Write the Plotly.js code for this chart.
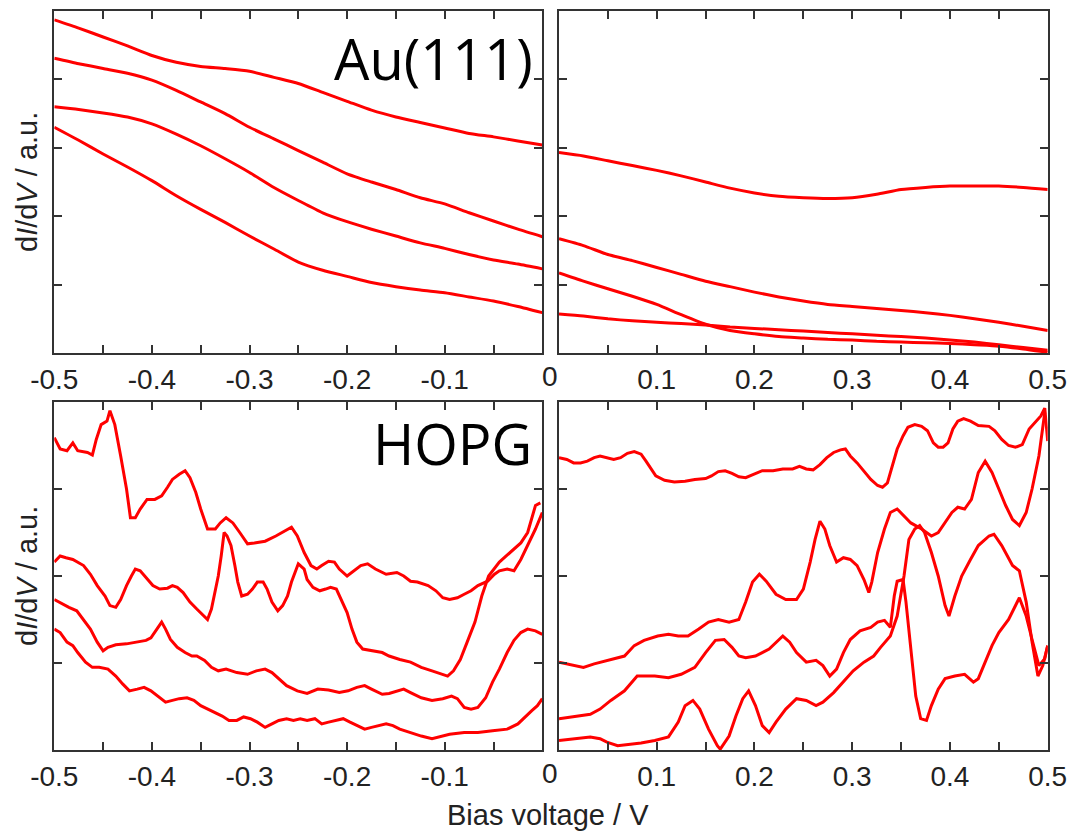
<!DOCTYPE html>
<html>
<head>
<meta charset="utf-8">
<script src="https://cdn.plot.ly/plotly-3.0.1.min.js"></script>
<style>
  html, body { margin: 0; padding: 0; background: #ffffff; }
  #chart { width: 1071px; height: 833px; }
</style>
</head>
<body>
<div id="chart"></div>
<script>
// ---- Au(111) spectra, bias grid in volts ----
const auNegBias = [-0.5, -0.475, -0.45, -0.425, -0.4, -0.375, -0.35, -0.325, -0.3, -0.275, -0.25,
                   -0.225, -0.2, -0.175, -0.15, -0.125, -0.1, -0.075, -0.05, -0.025, 0];
const auNeg1 = [4.87, 4.75, 4.62, 4.49, 4.35, 4.25, 4.19, 4.16, 4.12, 4.03, 3.94, 3.81, 3.68, 3.55, 3.45, 3.37, 3.29, 3.21, 3.16, 3.10, 3.04];
const auNeg2 = [4.31, 4.23, 4.16, 4.09, 3.99, 3.84, 3.67, 3.50, 3.30, 3.13, 2.96, 2.79, 2.62, 2.50, 2.39, 2.27, 2.18, 2.05, 1.93, 1.81, 1.70];
const auNeg3 = [3.60, 3.56, 3.51, 3.45, 3.35, 3.20, 3.03, 2.84, 2.64, 2.42, 2.23, 2.05, 1.92, 1.81, 1.71, 1.61, 1.53, 1.44, 1.36, 1.30, 1.23];
const auNeg4 = [3.30, 3.11, 2.91, 2.72, 2.52, 2.30, 2.10, 1.91, 1.71, 1.52, 1.33, 1.21, 1.12, 1.03, 0.97, 0.92, 0.88, 0.82, 0.76, 0.68, 0.59];

const auPosBias = [0, 0.025, 0.05, 0.075, 0.1, 0.125, 0.15, 0.175, 0.2, 0.225, 0.25,
                   0.275, 0.3, 0.325, 0.35, 0.375, 0.4, 0.425, 0.45, 0.475, 0.5];
const auPos1 = [2.93, 2.88, 2.81, 2.74, 2.67, 2.59, 2.50, 2.41, 2.34, 2.29, 2.27, 2.26, 2.27, 2.32, 2.39, 2.42, 2.44, 2.44, 2.44, 2.42, 2.39];
const auPos2 = [1.67, 1.57, 1.44, 1.35, 1.25, 1.15, 1.05, 0.97, 0.89, 0.82, 0.76, 0.71, 0.68, 0.65, 0.62, 0.59, 0.55, 0.50, 0.45, 0.39, 0.33];
const auPos3 = [1.17, 1.05, 0.94, 0.83, 0.71, 0.56, 0.42, 0.33, 0.28, 0.24, 0.22, 0.20, 0.19, 0.17, 0.16, 0.15, 0.14, 0.12, 0.10, 0.06, 0.01];
const auPos4 = [0.57, 0.54, 0.50, 0.47, 0.45, 0.43, 0.41, 0.38, 0.36, 0.34, 0.32, 0.30, 0.28, 0.26, 0.24, 0.22, 0.19, 0.16, 0.12, 0.08, 0.04];

// ---- HOPG spectra, [bias V, dI/dV] pairs ----
const hopgNeg1 = [[-0.5,3.59],[-0.494,3.46],[-0.487,3.44],[-0.481,3.53],[-0.476,3.44],[-0.466,3.42],[-0.461,3.39],[-0.457,3.57],[-0.452,3.74],[-0.446,3.78],[-0.443,3.90],[-0.438,3.74],[-0.432,3.38],[-0.426,3.00],[-0.422,2.67],[-0.417,2.67],[-0.412,2.77],[-0.405,2.88],[-0.397,2.88],[-0.39,2.92],[-0.384,3.02],[-0.379,3.11],[-0.372,3.17],[-0.366,3.21],[-0.361,3.13],[-0.355,2.96],[-0.35,2.77],[-0.343,2.54],[-0.335,2.54],[-0.33,2.61],[-0.324,2.67],[-0.317,2.61],[-0.31,2.50],[-0.302,2.37],[-0.295,2.38],[-0.284,2.40],[-0.273,2.46],[-0.266,2.50],[-0.257,2.56],[-0.251,2.46],[-0.244,2.27],[-0.237,2.12],[-0.231,2.08],[-0.226,2.12],[-0.219,2.17],[-0.213,2.16],[-0.208,2.08],[-0.2,2.00],[-0.193,2.06],[-0.186,2.12],[-0.179,2.14],[-0.171,2.08],[-0.16,2.02],[-0.149,2.04],[-0.142,2.00],[-0.135,1.94],[-0.128,1.93],[-0.117,1.89],[-0.109,1.83],[-0.102,1.75],[-0.095,1.73],[-0.087,1.75],[-0.08,1.79],[-0.073,1.83],[-0.066,1.89],[-0.056,1.94],[-0.049,2.02],[-0.044,2.06],[-0.036,2.08],[-0.029,2.06],[-0.022,2.19],[-0.015,2.35],[-0.007,2.54],[0,2.73]];
const hopgNeg2 = [[-0.5,2.16],[-0.494,2.23],[-0.488,2.21],[-0.481,2.19],[-0.47,2.12],[-0.463,2.02],[-0.456,1.89],[-0.448,1.77],[-0.443,1.66],[-0.437,1.64],[-0.432,1.73],[-0.426,1.89],[-0.421,2.00],[-0.417,2.08],[-0.412,2.06],[-0.406,1.98],[-0.399,1.89],[-0.392,1.85],[-0.384,1.86],[-0.379,1.89],[-0.374,1.87],[-0.368,1.81],[-0.361,1.70],[-0.354,1.62],[-0.346,1.54],[-0.343,1.50],[-0.339,1.62],[-0.335,1.85],[-0.332,2.00],[-0.329,2.23],[-0.326,2.50],[-0.323,2.46],[-0.319,2.35],[-0.315,2.12],[-0.312,1.93],[-0.308,1.77],[-0.302,1.79],[-0.297,1.85],[-0.292,1.93],[-0.286,1.93],[-0.282,1.85],[-0.277,1.70],[-0.271,1.60],[-0.266,1.66],[-0.261,1.77],[-0.257,1.93],[-0.253,2.06],[-0.25,2.14],[-0.244,2.08],[-0.241,1.96],[-0.235,1.87],[-0.228,1.83],[-0.222,1.85],[-0.217,1.87],[-0.211,1.85],[-0.206,1.73],[-0.2,1.58],[-0.195,1.39],[-0.19,1.24],[-0.184,1.16],[-0.175,1.14],[-0.164,1.12],[-0.157,1.08],[-0.146,1.04],[-0.135,1.01],[-0.124,0.95],[-0.113,0.91],[-0.102,0.87],[-0.097,0.85],[-0.091,0.91],[-0.084,1.04],[-0.077,1.24],[-0.069,1.47],[-0.062,1.77],[-0.055,2.00],[-0.044,2.16],[-0.033,2.27],[-0.022,2.38],[-0.015,2.50],[-0.007,2.81],[-0.002,2.84]];
const hopgNeg3 = [[-0.5,1.73],[-0.492,1.68],[-0.485,1.64],[-0.477,1.60],[-0.47,1.50],[-0.463,1.39],[-0.456,1.24],[-0.45,1.14],[-0.445,1.18],[-0.437,1.21],[-0.426,1.22],[-0.415,1.24],[-0.406,1.26],[-0.401,1.29],[-0.395,1.39],[-0.39,1.47],[-0.386,1.39],[-0.381,1.27],[-0.374,1.18],[-0.366,1.12],[-0.359,1.08],[-0.354,1.08],[-0.346,1.03],[-0.339,0.95],[-0.332,0.91],[-0.324,0.93],[-0.313,0.89],[-0.302,0.87],[-0.293,0.91],[-0.284,0.93],[-0.277,0.89],[-0.27,0.82],[-0.262,0.74],[-0.251,0.68],[-0.241,0.65],[-0.23,0.70],[-0.219,0.69],[-0.208,0.66],[-0.199,0.68],[-0.19,0.72],[-0.182,0.74],[-0.175,0.70],[-0.164,0.64],[-0.157,0.65],[-0.149,0.68],[-0.142,0.70],[-0.135,0.66],[-0.124,0.60],[-0.113,0.57],[-0.102,0.59],[-0.093,0.62],[-0.087,0.59],[-0.08,0.49],[-0.073,0.47],[-0.066,0.49],[-0.058,0.60],[-0.051,0.78],[-0.044,0.93],[-0.036,1.12],[-0.029,1.26],[-0.022,1.35],[-0.015,1.39],[-0.007,1.37],[0,1.33]];
const hopgNeg4 = [[-0.5,1.39],[-0.494,1.35],[-0.487,1.24],[-0.481,1.20],[-0.476,1.12],[-0.468,1.01],[-0.461,0.95],[-0.454,0.95],[-0.445,0.93],[-0.437,0.85],[-0.43,0.76],[-0.423,0.68],[-0.415,0.70],[-0.408,0.72],[-0.401,0.68],[-0.394,0.62],[-0.386,0.55],[-0.379,0.57],[-0.372,0.59],[-0.364,0.60],[-0.357,0.57],[-0.35,0.51],[-0.343,0.47],[-0.335,0.43],[-0.328,0.39],[-0.321,0.34],[-0.313,0.34],[-0.306,0.38],[-0.299,0.36],[-0.292,0.32],[-0.284,0.26],[-0.277,0.30],[-0.27,0.34],[-0.262,0.36],[-0.255,0.34],[-0.248,0.36],[-0.241,0.34],[-0.233,0.36],[-0.226,0.30],[-0.219,0.32],[-0.211,0.34],[-0.204,0.36],[-0.197,0.32],[-0.19,0.28],[-0.182,0.24],[-0.175,0.26],[-0.168,0.28],[-0.16,0.30],[-0.153,0.28],[-0.146,0.24],[-0.135,0.20],[-0.124,0.16],[-0.113,0.13],[-0.106,0.15],[-0.095,0.18],[-0.08,0.20],[-0.066,0.20],[-0.051,0.22],[-0.036,0.24],[-0.025,0.30],[-0.018,0.38],[-0.011,0.45],[-0.005,0.51],[0,0.59]];

const hopgPos1 = [[0,3.36],[0.008,3.34],[0.015,3.30],[0.022,3.30],[0.029,3.32],[0.036,3.36],[0.042,3.38],[0.049,3.36],[0.056,3.34],[0.063,3.36],[0.07,3.41],[0.077,3.43],[0.084,3.40],[0.089,3.32],[0.094,3.23],[0.099,3.15],[0.108,3.10],[0.118,3.08],[0.129,3.09],[0.139,3.11],[0.15,3.12],[0.156,3.15],[0.163,3.20],[0.17,3.21],[0.177,3.18],[0.184,3.14],[0.191,3.13],[0.198,3.16],[0.208,3.21],[0.219,3.21],[0.229,3.23],[0.239,3.23],[0.246,3.26],[0.253,3.23],[0.26,3.22],[0.267,3.28],[0.274,3.36],[0.281,3.42],[0.288,3.45],[0.293,3.46],[0.298,3.38],[0.305,3.30],[0.312,3.21],[0.319,3.11],[0.326,3.04],[0.331,3.02],[0.336,3.07],[0.341,3.27],[0.346,3.46],[0.352,3.61],[0.357,3.71],[0.364,3.74],[0.371,3.72],[0.377,3.67],[0.383,3.53],[0.388,3.48],[0.393,3.48],[0.398,3.53],[0.403,3.69],[0.408,3.78],[0.414,3.81],[0.421,3.78],[0.429,3.73],[0.44,3.72],[0.446,3.67],[0.453,3.57],[0.46,3.50],[0.467,3.48],[0.474,3.51],[0.481,3.69],[0.488,3.78],[0.493,3.84],[0.497,3.93],[0.5,3.55]];
const hopgPos2 = [[0,1.01],[0.015,0.97],[0.025,0.95],[0.036,0.99],[0.049,1.03],[0.067,1.08],[0.077,1.20],[0.087,1.26],[0.101,1.31],[0.112,1.33],[0.122,1.31],[0.132,1.31],[0.143,1.39],[0.153,1.47],[0.163,1.50],[0.174,1.47],[0.184,1.50],[0.191,1.70],[0.198,1.93],[0.205,2.02],[0.212,1.94],[0.222,1.79],[0.232,1.73],[0.243,1.73],[0.25,1.85],[0.257,2.16],[0.262,2.42],[0.267,2.63],[0.272,2.54],[0.277,2.35],[0.284,2.16],[0.291,2.21],[0.298,2.19],[0.305,2.12],[0.312,1.96],[0.317,1.81],[0.32,1.93],[0.326,2.27],[0.333,2.54],[0.339,2.73],[0.346,2.77],[0.353,2.69],[0.36,2.61],[0.371,2.54],[0.381,2.46],[0.388,2.50],[0.395,2.61],[0.402,2.73],[0.408,2.79],[0.415,2.77],[0.422,2.88],[0.429,3.19],[0.436,3.32],[0.443,3.19],[0.45,3.00],[0.457,2.81],[0.464,2.65],[0.471,2.58],[0.478,2.73],[0.484,3.00],[0.491,3.38],[0.497,3.88]];
const hopgPos3 = [[0,0.36],[0.015,0.38],[0.032,0.41],[0.042,0.47],[0.053,0.57],[0.067,0.68],[0.08,0.85],[0.098,0.85],[0.112,0.83],[0.125,0.87],[0.139,0.95],[0.15,1.12],[0.16,1.26],[0.169,1.27],[0.177,1.18],[0.184,1.08],[0.191,1.06],[0.201,1.08],[0.215,1.16],[0.229,1.31],[0.236,1.24],[0.243,1.12],[0.253,1.01],[0.263,1.03],[0.27,0.97],[0.277,0.85],[0.284,0.93],[0.291,1.12],[0.298,1.27],[0.308,1.37],[0.319,1.41],[0.326,1.47],[0.333,1.49],[0.339,1.41],[0.343,1.77],[0.346,1.94],[0.352,1.96],[0.355,1.70],[0.36,1.12],[0.365,0.62],[0.37,0.36],[0.376,0.34],[0.381,0.51],[0.388,0.70],[0.395,0.82],[0.405,0.85],[0.415,0.87],[0.424,0.78],[0.429,0.82],[0.436,1.01],[0.443,1.20],[0.45,1.35],[0.46,1.50],[0.471,1.75],[0.478,1.54],[0.484,1.27],[0.491,0.97],[0.497,1.05],[0.5,1.20]];
const hopgPos4 = [[0,0.11],[0.015,0.13],[0.032,0.15],[0.042,0.13],[0.049,0.09],[0.06,0.05],[0.07,0.06],[0.084,0.08],[0.098,0.11],[0.112,0.15],[0.122,0.32],[0.129,0.51],[0.137,0.57],[0.144,0.47],[0.153,0.24],[0.162,0.05],[0.165,0.01],[0.174,0.16],[0.181,0.39],[0.188,0.59],[0.194,0.68],[0.201,0.51],[0.208,0.28],[0.215,0.20],[0.222,0.32],[0.232,0.47],[0.243,0.59],[0.253,0.57],[0.263,0.51],[0.27,0.55],[0.281,0.66],[0.291,0.78],[0.301,0.91],[0.312,1.01],[0.322,1.08],[0.329,1.18],[0.334,1.24],[0.339,1.31],[0.346,1.54],[0.353,2.00],[0.358,2.42],[0.364,2.54],[0.369,2.58],[0.374,2.50],[0.381,2.27],[0.388,2.00],[0.395,1.66],[0.399,1.54],[0.405,1.77],[0.412,2.00],[0.421,2.19],[0.429,2.35],[0.44,2.46],[0.445,2.48],[0.453,2.35],[0.464,2.12],[0.471,2.06],[0.478,1.70],[0.484,1.24],[0.49,0.85],[0.495,0.97],[0.5,1.20]];

// ---- tick positions and labels ----
const negTickVals = [-0.5, -0.45, -0.4, -0.35, -0.3, -0.25, -0.2, -0.15, -0.1, -0.05, 0];
const negTickText = ['-0.5', '', '-0.4', '', '-0.3', '', '-0.2', '', '-0.1', '', ''];
const posTickVals = [0, 0.05, 0.1, 0.15, 0.2, 0.25, 0.3, 0.35, 0.4, 0.45, 0.5];
const posTickText = ['', '', '0.1', '', '0.2', '', '0.3', '', '0.4', '', '0.5'];
const auYTicks = [1, 2, 3, 4];
const hopgYTicks = [1, 2, 3];

const W = 1071, H = 833;
const RED = '#ff0000';
const FRAME = '#333333';
const LABEL_FONT = 'Liberation Sans, Arial, Helvetica, sans-serif';

function gridTrace(x, y, xa, ya) {
  return { x: x, y: y, xaxis: xa, yaxis: ya, type: 'scatter', mode: 'lines',
           line: { color: RED, width: 3, shape: 'spline', smoothing: 0.6 }, hoverinfo: 'skip' };
}
function pairTrace(pts, xa, ya) {
  return { x: pts.map(p => p[0]), y: pts.map(p => p[1]), xaxis: xa, yaxis: ya,
           type: 'scatter', mode: 'lines', line: { color: RED, width: 3 }, hoverinfo: 'skip' };
}

const traces = [
  gridTrace(auNegBias, auNeg1, 'x', 'y'),
  gridTrace(auNegBias, auNeg2, 'x', 'y'),
  gridTrace(auNegBias, auNeg3, 'x', 'y'),
  gridTrace(auNegBias, auNeg4, 'x', 'y'),
  gridTrace(auPosBias, auPos1, 'x2', 'y2'),
  gridTrace(auPosBias, auPos2, 'x2', 'y2'),
  gridTrace(auPosBias, auPos3, 'x2', 'y2'),
  gridTrace(auPosBias, auPos4, 'x2', 'y2'),
  pairTrace(hopgNeg1, 'x3', 'y3'),
  pairTrace(hopgNeg2, 'x3', 'y3'),
  pairTrace(hopgNeg3, 'x3', 'y3'),
  pairTrace(hopgNeg4, 'x3', 'y3'),
  pairTrace(hopgPos1, 'x4', 'y4'),
  pairTrace(hopgPos2, 'x4', 'y4'),
  pairTrace(hopgPos3, 'x4', 'y4'),
  pairTrace(hopgPos4, 'x4', 'y4')
];

const leftDom = [54.3 / W, 542.3 / W];
const rightDom = [559 / W, 1047.7 / W];
const topDom = [1 - 353 / H, 1 - 11 / H];
const botDom = [1 - 750 / H, 1 - 402 / H];

function xAxis(dom, anchor, range, vals, text) {
  return { domain: dom, anchor: anchor, range: range, tickmode: 'array', tickvals: vals, ticktext: text,
           ticks: 'inside', ticklen: 8, tickwidth: 2, tickcolor: FRAME,
           showline: true, linecolor: FRAME, linewidth: 2, mirror: 'ticks',
           showgrid: false, zeroline: false, fixedrange: true,
           tickfont: { family: LABEL_FONT, size: 28, color: '#222222' } };
}
function yAxis(dom, anchor, range, vals) {
  return { domain: dom, anchor: anchor, range: range, tickmode: 'array', tickvals: vals,
           showticklabels: false, ticks: 'inside', ticklen: 8, tickwidth: 2, tickcolor: FRAME,
           showline: true, linecolor: FRAME, linewidth: 2, mirror: 'ticks',
           showgrid: false, zeroline: false, fixedrange: true };
}

const yTitle = 'd<i>I</i>/d<i>V</i> / a.u.';
const titleFont = { family: LABEL_FONT, size: 29, color: '#222222' };
const panelFont = { family: 'Open Sans, Noto Sans, sans-serif', size: 56, color: '#000000' };

const layout = {
  width: W, height: H,
  margin: { l: 0, r: 0, t: 0, b: 0 },
  paper_bgcolor: '#ffffff', plot_bgcolor: '#ffffff',
  showlegend: false,
  xaxis: xAxis(leftDom, 'y', [-0.5, 0], negTickVals, negTickText),
  yaxis: yAxis(topDom, 'x', [0, 5], auYTicks),
  xaxis2: xAxis(rightDom, 'y2', [0, 0.5], posTickVals, posTickText),
  yaxis2: yAxis(topDom, 'x2', [0, 5], auYTicks),
  xaxis3: xAxis(leftDom, 'y3', [-0.5, 0], negTickVals, negTickText),
  yaxis3: yAxis(botDom, 'x3', [0, 4], hopgYTicks),
  xaxis4: xAxis(rightDom, 'y4', [0, 0.5], posTickVals, posTickText),
  yaxis4: yAxis(botDom, 'x4', [0, 4], hopgYTicks),
  annotations: [
    { text: 'Au(111)', xref: 'paper', yref: 'paper', x: 535 / W, y: 1 - 58 / H,
      xanchor: 'right', yanchor: 'middle', showarrow: false, font: panelFont },
    { text: 'HOPG', xref: 'paper', yref: 'paper', x: 534 / W, y: 1 - 443 / H,
      xanchor: 'right', yanchor: 'middle', showarrow: false, font: panelFont },
    { text: '0', xref: 'paper', yref: 'paper', x: 550 / W, y: 1 - 376 / H,
      xanchor: 'center', yanchor: 'middle', showarrow: false,
      font: { family: LABEL_FONT, size: 28, color: '#222222' } },
    { text: '0', xref: 'paper', yref: 'paper', x: 550 / W, y: 1 - 773 / H,
      xanchor: 'center', yanchor: 'middle', showarrow: false,
      font: { family: LABEL_FONT, size: 28, color: '#222222' } },
    { text: yTitle, xref: 'paper', yref: 'paper', x: 27 / W, y: 1 - 182 / H, textangle: -90,
      xanchor: 'center', yanchor: 'middle', showarrow: false, font: titleFont },
    { text: yTitle, xref: 'paper', yref: 'paper', x: 27 / W, y: 1 - 576 / H, textangle: -90,
      xanchor: 'center', yanchor: 'middle', showarrow: false, font: titleFont },
    { text: 'Bias voltage / V', xref: 'paper', yref: 'paper', x: 548 / W, y: 1 - 815 / H,
      xanchor: 'center', yanchor: 'middle', showarrow: false, font: titleFont }
  ]
};

Plotly.newPlot('chart', traces, layout, { staticPlot: true, displayModeBar: false });
</script>
</body>
</html>
